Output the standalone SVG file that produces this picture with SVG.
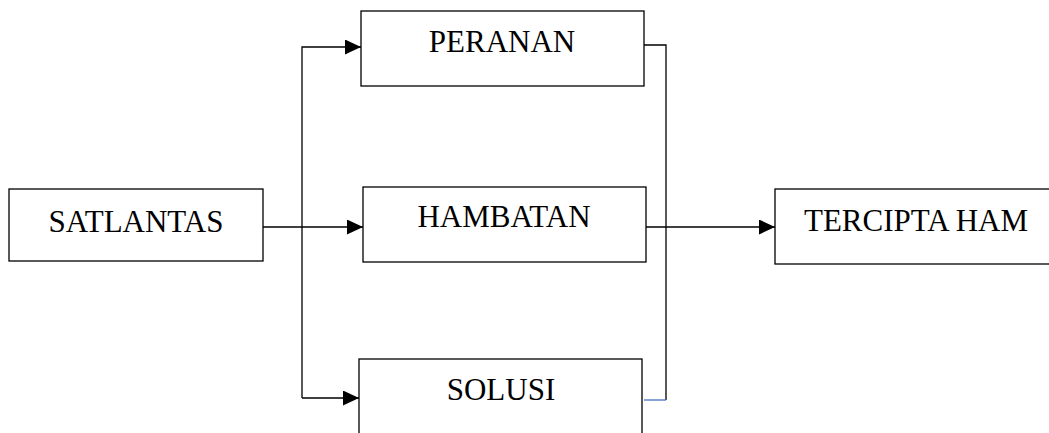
<svg xmlns="http://www.w3.org/2000/svg" width="1049" height="433" viewBox="0 0 1049 433">
<style>
.box{fill:#fff;stroke:#000;stroke-width:1.3}
.lbl{font-family:"Liberation Serif","Times New Roman",serif;font-size:31px;fill:#000;text-anchor:middle}
.ln{fill:none;stroke:#000;stroke-width:1.3}
</style>
<defs>
<marker id="ah" markerUnits="userSpaceOnUse" markerWidth="17" markerHeight="15" refX="16" refY="7.5" orient="auto">
<path d="M0,0 L16,7.5 L0,15 Z" fill="#000"/>
</marker>
</defs>
<rect width="1049" height="433" fill="#fff"/>
<g id="connectors">
<path class="ln" d="M263,227 L363,227" marker-end="url(#ah)"/>
<path class="ln" d="M302,398 L302,47 L361,47" marker-end="url(#ah)"/>
<path class="ln" d="M302,398 L359,398" marker-end="url(#ah)"/>
<path class="ln" d="M644,45 L666,45 L666,400"/>
<path fill="none" stroke="#4472C4" stroke-width="1.3" d="M644,400 L666,400"/>
<path class="ln" d="M646,227 L775,227" marker-end="url(#ah)"/>
</g>
<g id="satlantas">
<rect class="box" x="9" y="189" width="254" height="72"/>
<text class="lbl" x="136" y="232">SATLANTAS</text>
</g>
<g id="peranan">
<rect class="box" x="361" y="11" width="283" height="75"/>
<text class="lbl" x="502" y="52">PERANAN</text>
</g>
<g id="hambatan">
<rect class="box" x="363" y="187" width="283" height="75"/>
<text class="lbl" x="504" y="227">HAMBATAN</text>
</g>
<g id="solusi">
<rect class="box" x="359" y="359" width="283" height="90"/>
<text class="lbl" x="501" y="400">SOLUSI</text>
</g>
<g id="tercipta">
<rect class="box" x="775" y="189" width="290" height="75"/>
<text class="lbl" x="916" y="231">TERCIPTA HAM</text>
</g>
</svg>
